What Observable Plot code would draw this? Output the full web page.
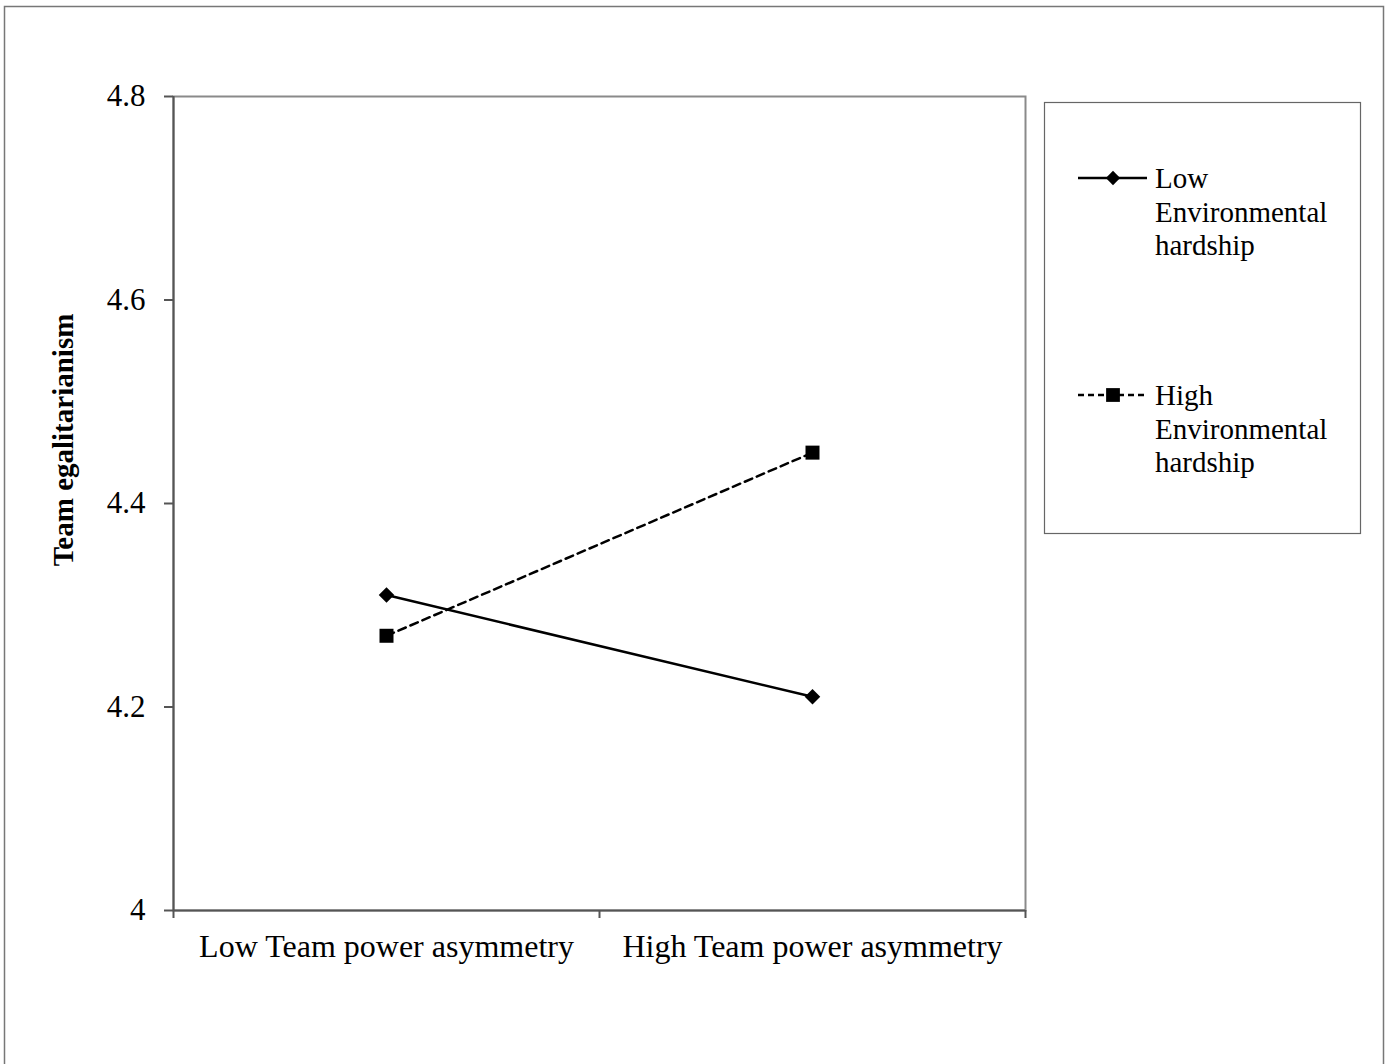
<!DOCTYPE html>
<html>
<head>
<meta charset="utf-8">
<script src="https://cdn.jsdelivr.net/npm/d3@7"></script>
<script src="https://cdn.jsdelivr.net/npm/@observablehq/plot@0.6"></script>
<style>
  html, body { margin: 0; padding: 0; background: white; }
  #chart svg { display: block; }
</style>
</head>
<body>
<div id="chart"></div>
<script>
// ---- data ----
const conditions = ["Low Team power asymmetry", "High Team power asymmetry"];
const seriesNames = ["Low Environmental hardship", "High Environmental hardship"];
const legendLines = [["Low", "Environmental", "hardship"], ["High", "Environmental", "hardship"]];
const lowHardship = [4.31, 4.21];
const highHardship = [4.27, 4.45];
const yTicks = [4, 4.2, 4.4, 4.6, 4.8];
const yTitle = "Team egalitarianism";

const data = [];
conditions.forEach((c, i) => {
  data.push({series: seriesNames[0], pos: i + 0.5, value: lowHardship[i]});
  data.push({series: seriesNames[1], pos: i + 0.5, value: highHardship[i]});
});
const low = data.filter(d => d.series === seriesNames[0]);
const high = data.filter(d => d.series === seriesNames[1]);
const boundaries = d3.range(conditions.length + 1);
const centers = conditions.map((c, i) => i + 0.5);

const W = 1388, H = 1064;
const font = "'Liberation Serif', 'Times New Roman', serif";

const chart = Plot.plot({
  width: W,
  height: H,
  marginLeft: 173,
  marginRight: 363,
  marginTop: 96,
  marginBottom: 154,
  style: {fontFamily: font, fontSize: "28px", color: "black", background: "white", overflow: "visible"},
  x: {domain: [0, conditions.length]},
  y: {domain: [4, 4.8]},
  marks: [
    Plot.frame({stroke: "#8a8a8a", strokeWidth: 2}),
    Plot.ruleX([0], {stroke: "#555", strokeWidth: 2}),
    Plot.ruleY([4], {stroke: "#555", strokeWidth: 2}),
    Plot.axisY({ticks: yTicks, tickFormat: d => String(d), tickSize: 9, tickPadding: 19, stroke: "#555", strokeWidth: 2, label: null}),
    Plot.axisX({ticks: boundaries, tickFormat: () => "", tickSize: 8, stroke: "#555", strokeWidth: 2, label: null}),
    Plot.axisX({ticks: centers, tickFormat: d => conditions[Math.round(d - 0.5)], tickSize: 0, tickPadding: 24, label: null}),
    Plot.line(low, {x: "pos", y: "value", stroke: "black", strokeWidth: 2.5}),
    Plot.line(high, {x: "pos", y: "value", stroke: "black", strokeWidth: 2.5, strokeDasharray: "8,5"}),
    Plot.dot(low, {x: "pos", y: "value", symbol: "diamond2", r: 7, fill: "black", stroke: "none"}),
    Plot.dot(high, {x: "pos", y: "value", symbol: "square", r: 7.9, fill: "black", stroke: "none"})
  ]
});

const svg = d3.select(chart);
svg.selectAll("g[aria-label='y-axis tick label']").attr("font-size", 31).style("font-size", "31px");
svg.selectAll("g[aria-label='x-axis tick label']").attr("font-size", 32).style("font-size", "32px");

// outer border
svg.insert("rect", ":first-child")
  .attr("x", 4.5).attr("y", 6.5).attr("width", 1379).attr("height", 1100)
  .attr("fill", "none").attr("stroke", "#777").attr("stroke-width", 1.5);

// y-axis title
svg.append("text")
  .attr("transform", "translate(73,440) rotate(-90)")
  .attr("text-anchor", "middle")
  .attr("font-family", font)
  .attr("font-weight", "bold")
  .style("font-size", "29px")
  .attr("fill", "black")
  .text(yTitle);

// legend
const lg = svg.append("g");
lg.append("rect")
  .attr("x", 1044.5).attr("y", 102.5).attr("width", 316).attr("height", 431)
  .attr("fill", "white").attr("stroke", "#666").attr("stroke-width", 1.2);
const legendY = [178, 395];
const symbols = [d3.symbolDiamond2, d3.symbolSquare];
const symSizes = [130, 190];
const dashes = [null, "6,4"];
seriesNames.forEach((name, i) => {
  const y = legendY[i];
  lg.append("line")
    .attr("x1", 1078).attr("x2", 1147).attr("y1", y).attr("y2", y)
    .attr("stroke", "black").attr("stroke-width", 2.5)
    .attr("stroke-dasharray", dashes[i]);
  lg.append("path")
    .attr("d", d3.symbol(symbols[i], symSizes[i])())
    .attr("transform", `translate(1113,${y})`)
    .attr("fill", "black");
  const t = lg.append("text")
    .attr("text-anchor", "start")
    .attr("font-family", font).style("font-size", "29px").attr("fill", "black");
  legendLines[i].forEach((ln, k) => {
    t.append("tspan").attr("x", 1155).attr("y", y + 10 + k * 33.5).text(ln);
  });
});

document.getElementById("chart").appendChild(chart);
</script>
</body>
</html>
